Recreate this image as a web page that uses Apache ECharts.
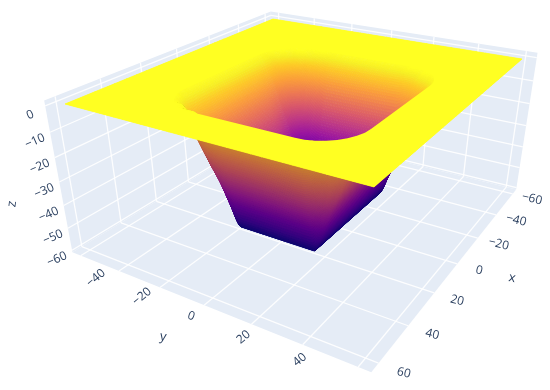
<!DOCTYPE html>
<html><head><meta charset="utf-8">
<style>html,body{margin:0;padding:0;background:#fff}#c{width:550px;height:390px}</style>
<script src="https://cdn.jsdelivr.net/npm/echarts@6/dist/echarts.min.js"></script>
</head><body><div id="c"></div>
<script>
// ---- data ----
const xTicks=[-60,-40,-20,0,20,40,60];
const yTicks=[-40,-20,0,20,40];
const yGridTicks=[-60,-40,-20,0,20,40,60];
const zTicks=[0,-10,-20,-30,-40,-50,-60];
const xGrid=[-60,-34,-30,-27,-24,-21,-18,-15,-5,5,15,22,27,32,35,38,41,44,47,60];
const yGrid=[-60,-37,-33,-29,-25,-21,-17,-13,-9,0,10,19,23,26.6,30.2,33.8,37.4,41,45,60];
const zGrid=[
[0,0,0,0,0,0,0,0,0,0,0,0,0,0,0,0,0,0,0,0],
[0,0,0,0,0,0,0,0,0,0,0,0,0,0,0,0,0,0,0,0],
[0,0,0,0,0,0,0,0,-1,-1,-1,-1,-1,0,0,0,0,0,0,0],
[0,0,0,0,0,0,-4,-7,-8,-8,-8,-8,-8,-7,-4,0,0,0,0,0],
[0,0,0,0,-4,-10,-15,-19,-22,-22,-22,-22,-22,-18,-14.5,-9,-2,0,0,0],
[0,0,0,-3,-11,-18,-27,-33,-35,-35,-35,-35,-35,-29,-24,-16,-8,0,0,0],
[0,0,-1,-7,-15,-25,-35,-42,-46,-46,-46,-46,-46,-38,-30,-21,-12,-2,0,0],
[0,0,-1,-7,-17,-27,-38,-44,-50,-50,-50,-50,-50,-42,-31,-22,-12,-3,0,0],
[0,0,-1,-7,-15,-23,-32,-42,-50,-50,-50,-50,-50,-42,-31,-22,-12,-3,0,0],
[0,0,-1,-7,-15,-23,-32,-42,-50,-50,-50,-50,-50,-42,-31,-22,-12,-3,0,0],
[0,0,-1,-7,-15,-23,-32,-42,-50,-50,-50,-50,-50,-42,-31,-22,-12,-3,0,0],
[0,0,-1,-7,-15,-23,-32,-42,-50,-50,-50,-50,-50,-42,-31,-22,-12,-3,0,0],
[0,0,-1,-7,-15,-23,-32,-42,-50,-50,-50,-50,-50,-42,-31,-22,-12,-3,0,0],
[0,0,-1,-7,-15,-23,-32,-42,-50,-50,-50,-50,-50,-42,-31,-22,-12,-3,0,0],
[0,0,0,-5,-13,-21,-28,-34,-38,-38,-38,-38,-38,-34,-28,-19,-10,-1,0,0],
[0,0,0,-1,-8,-14,-20,-24,-26,-26,-26,-26,-26,-24,-19,-13,-5,0,0,0],
[0,0,0,0,0,-5,-10,-13,-14,-14,-14,-14,-14,-13,-9,-4,0,0,0,0],
[0,0,0,0,0,0,0,-2,-3,-3,-3,-3,-3,-2,0,0,0,0,0,0],
[0,0,0,0,0,0,0,0,0,0,0,0,0,0,0,0,0,0,0,0],
[0,0,0,0,0,0,0,0,0,0,0,0,0,0,0,0,0,0,0,0]
];
// rim of the pit on the flat z=0 plate
const rimX=[44.5,44.2,43.2,41.6,39.5,36.9,34,30.8,27.5,-16,-18.9,-21.7,-24.3,-26.6,-28.5,-29.9,-30.7,-31,-31,-30.7,-29.7,-28.1,-26,-23.4,-20.5,-17.3,-14,28.5,31.6,34.6,37.4,39.8,41.8,43.3,44.2,44.5];
const rimY=[24,27.3,30.5,33.4,36,38.1,39.7,40.7,41,41,40.7,39.9,38.5,36.6,34.3,31.7,28.9,26,-17,-20.3,-23.5,-26.4,-29,-31.1,-32.7,-33.7,-34,-34,-33.7,-32.8,-31.3,-29.3,-26.9,-24.1,-21.1,-18];
const plateEdge=60;
// ---- camera: projective map of the scene box to the page ----
const cam={xs:-225.61,xt:165.34,xq:25.4,x0:273,ys:56.82,yt:30.545,yq:125.2,y0:19,ws:-0.27093,wt:-0.16026,wq:0.0824};
function project(x,y,z){
  const s=(x+60)/120,t=(y+60)/120,q=-z/60;
  const w=cam.ws*s+cam.wt*t+cam.wq*q+1;
  return [(cam.xs*s+cam.xt*t+cam.xq*q+cam.x0)/w,(cam.ys*s+cam.yt*t+cam.yq*q+cam.y0)/w];
}
// ---- style ----
const box={lo:-64.5,hi:64.5,zlo:-61,zhi:2};
const wallColor='#e5ecf6',gridColor='rgba(255,255,255,0.9)',textColor='#2a3f5f',plateColor='#ffff22';
const plasma=[[0,'#0d0887'],[.11,'#46039f'],[.22,'#7201a8'],[.33,'#9c179e'],[.44,'#bd3786'],[.55,'#d8576b'],[.66,'#ed7953'],[.77,'#fb9f3a'],[.88,'#fdca26'],[.95,'#f7ee24'],[1,plateColor]];
const plasmaRgb=plasma.map(([p,c])=>[p,parseInt(c.slice(1,3),16),parseInt(c.slice(3,5),16),parseInt(c.slice(5,7),16)]);
const zMin=-50;
function colorOf(z,shade){
  const v=Math.max(0,Math.min(1,(z-zMin)/(0-zMin)));
  let i=0;while(i<plasmaRgb.length-2&&v>plasmaRgb[i+1][0])i++;
  const a=plasmaRgb[i],b=plasmaRgb[i+1],f=(v-a[0])/(b[0]-a[0]);
  const ch=k=>Math.round((a[k]+(b[k]-a[k])*f)*shade);
  return 'rgb('+ch(1)+','+ch(2)+','+ch(3)+')';
}
// smooth shading inside a grid cell (monotone, never leaves the range of the table)
function slope(h0,d0,h1,d1){
  if(d0*d1<=0)return 0;
  const w0=2*h1+h0,w1=h1+2*h0;
  return (w0+w1)/(w0/d0+w1/d1);
}
function tangentAt(axis,vals,k){
  const n=axis.length;
  if(k<=0)return (vals[1]-vals[0])/(axis[1]-axis[0]);
  if(k>=n-1)return (vals[n-1]-vals[n-2])/(axis[n-1]-axis[n-2]);
  const h0=axis[k]-axis[k-1],h1=axis[k+1]-axis[k];
  return slope(h0,(vals[k]-vals[k-1])/h0,h1,(vals[k+1]-vals[k])/h1);
}
function hermite(v0,v1,m0,m1,h,u){
  const u2=u*u,u3=u2*u;
  return (2*u3-3*u2+1)*v0+(u3-2*u2+u)*h*m0+(-2*u3+3*u2)*v1+(u3-u2)*h*m1;
}
const rowTan=zGrid.map(r=>r.map((_,k)=>tangentAt(yGrid,r,k)));
function smoothZ(i,j,u,v){
  const h=yGrid[j+1]-yGrid[j];
  const rowVal=r=>hermite(zGrid[r][j],zGrid[r][j+1],rowTan[r][j],rowTan[r][j+1],h,v);
  const col=[];
  for(let r=Math.max(0,i-1);r<=Math.min(xGrid.length-1,i+2);r++)col[r]=rowVal(r);
  const tan=k=>{
    if(k<=0)return (col[1]-col[0])/(xGrid[1]-xGrid[0]);
    if(k>=xGrid.length-1)return (col[k]-col[k-1])/(xGrid[k]-xGrid[k-1]);
    const h0=xGrid[k]-xGrid[k-1],h1=xGrid[k+1]-xGrid[k];
    return slope(h0,(col[k]-col[k-1])/h0,h1,(col[k+1]-col[k])/h1);
  };
  return hermite(col[i],col[i+1],tan(i),tan(i+1),xGrid[i+1]-xGrid[i],u);
}
function surfaceItem(params,api){
  const i=api.value(0),j=api.value(1);
  const x0=xGrid[i],x1=xGrid[i+1],y0=yGrid[j],y1=yGrid[j+1];
  const cs=[zGrid[i][j],zGrid[i+1][j],zGrid[i+1][j+1],zGrid[i][j+1]];
  const range=Math.max(...cs)-Math.min(...cs);
  const n=range===0?1:Math.min(12,Math.max(6,Math.ceil(range*1.3)));
  const V=[],Z=[],children=[];
  for(let p=0;p<=n;p++){V[p]=[];Z[p]=[];for(let q=0;q<=n;q++){
    const u=p/n,v=q/n,z=n===1?cs[0]:smoothZ(i,j,u,v);
    Z[p][q]=z;V[p][q]=api.coord(project(x0+(x1-x0)*u,y0+(y1-y0)*v,z));
  }}
  for(let p=0;p<n;p++)for(let q=0;q<n;q++){
    const P=[V[p][q],V[p+1][q],V[p+1][q+1],V[p][q+1]];
    const cross=(P[2][0]-P[0][0])*(P[3][1]-P[1][1])-(P[2][1]-P[0][1])*(P[3][0]-P[1][0]);
    const zc=(Z[p][q]+Z[p+1][q]+Z[p+1][q+1]+Z[p][q+1])/4;
    const col=colorOf(zc,cross>0?0.8:1);
    children.push({type:'polygon',shape:{points:P},style:{fill:col,stroke:col,lineWidth:0.7},silent:true});
  }
  return {type:'group',children};
}
function plateItem(params,api){
  const e=plateEdge,pts=[[e,e],[e,-e],[-e,-e],[-e,e],[e,e]];
  rimX.forEach((x,k)=>pts.push([x,rimY[k]]));
  pts.push([rimX[0],rimY[0]]);
  return {type:'polygon',silent:true,shape:{points:pts.map(p=>api.coord(project(p[0],p[1],0)))},style:{fill:plateColor}};
}
function wallItem(params,api){
  const {lo,hi,zlo,zhi}=box,C=p=>api.coord(project(p[0],p[1],p[2])),children=[];
  const poly=pts=>children.push({type:'polygon',shape:{points:pts.map(C)},style:{fill:wallColor},silent:true});
  const line=(p,q)=>{const A=C(p),B=C(q);children.push({type:'line',shape:{x1:A[0],y1:A[1],x2:B[0],y2:B[1]},style:{stroke:gridColor,lineWidth:1.3},silent:true});};
  poly([[hi,lo,zhi],[lo,lo,zhi],[lo,lo,zlo],[hi,lo,zlo]]);
  poly([[lo,lo,zhi],[lo,hi,zhi],[lo,hi,zlo],[lo,lo,zlo]]);
  poly([[hi,lo,zlo],[lo,lo,zlo],[lo,hi,zlo],[hi,hi,zlo]]);
  xTicks.forEach(x=>{line([x,lo,zlo],[x,hi,zlo]);line([x,lo,zlo],[x,lo,zhi]);});
  yGridTicks.forEach(y=>{line([lo,y,zlo],[hi,y,zlo]);line([lo,y,zlo],[lo,y,zhi]);});
  zTicks.forEach(z=>{line([hi,lo,z],[lo,lo,z]);line([lo,lo,z],[lo,hi,z]);});
  return {type:'group',children};
}
function labelItem(params,api){
  const children=[],{hi,lo,zlo}=box;
  const text=(pos,str,deg,size)=>{const c=api.coord(pos);children.push({type:'text',x:c[0],y:c[1],rotation:deg*Math.PI/180,silent:true,
    style:{text:str,fill:textColor,font:(size||12)+'px "Open Sans"',align:'center',verticalAlign:'middle'}});};
  const minus=v=>String(v).replace('-','\u2212');
  xTicks.forEach(x=>text(project(x,73,zlo),minus(x),-14));
  yTicks.forEach(y=>{const p=project(hi,y,zlo);text([p[0]-13+y*0.25,p[1]+11+y*0.1],minus(y),y===0?-20:40);});
  zTicks.forEach(z=>{const p=project(hi,lo,z);text([p[0]-15,p[1]+9],minus(z),24);});
  text([512,278],'x',-12,13);
  text([163,337],'y',-10,13);
  text([12,204],'z',82,13);
  return {type:'group',children};
}
const cells=[];
for(let i=0;i<xGrid.length-1;i++)for(let j=0;j<yGrid.length-1;j++)cells.push([i,j]);
const chart=echarts.init(document.getElementById('c'),null,{renderer:'canvas',width:550,height:390});
chart.setOption({
  animation:false,backgroundColor:'#ffffff',
  grid:{left:0,right:0,top:0,bottom:0},
  xAxis:{type:'value',min:0,max:550,show:false},
  yAxis:{type:'value',min:0,max:390,inverse:true,show:false},
  series:[
    {type:'custom',silent:true,clip:false,renderItem:wallItem,data:[[0,0]],encode:{x:0,y:1}},
    {type:'custom',silent:true,clip:false,renderItem:surfaceItem,data:cells,encode:{x:0,y:1},progressive:0},
    {type:'custom',silent:true,clip:false,renderItem:plateItem,data:[[0,0]],encode:{x:0,y:1}},
    {type:'custom',silent:true,clip:false,renderItem:labelItem,data:[[0,0]],encode:{x:0,y:1}}
  ]
});
</script></body></html>
